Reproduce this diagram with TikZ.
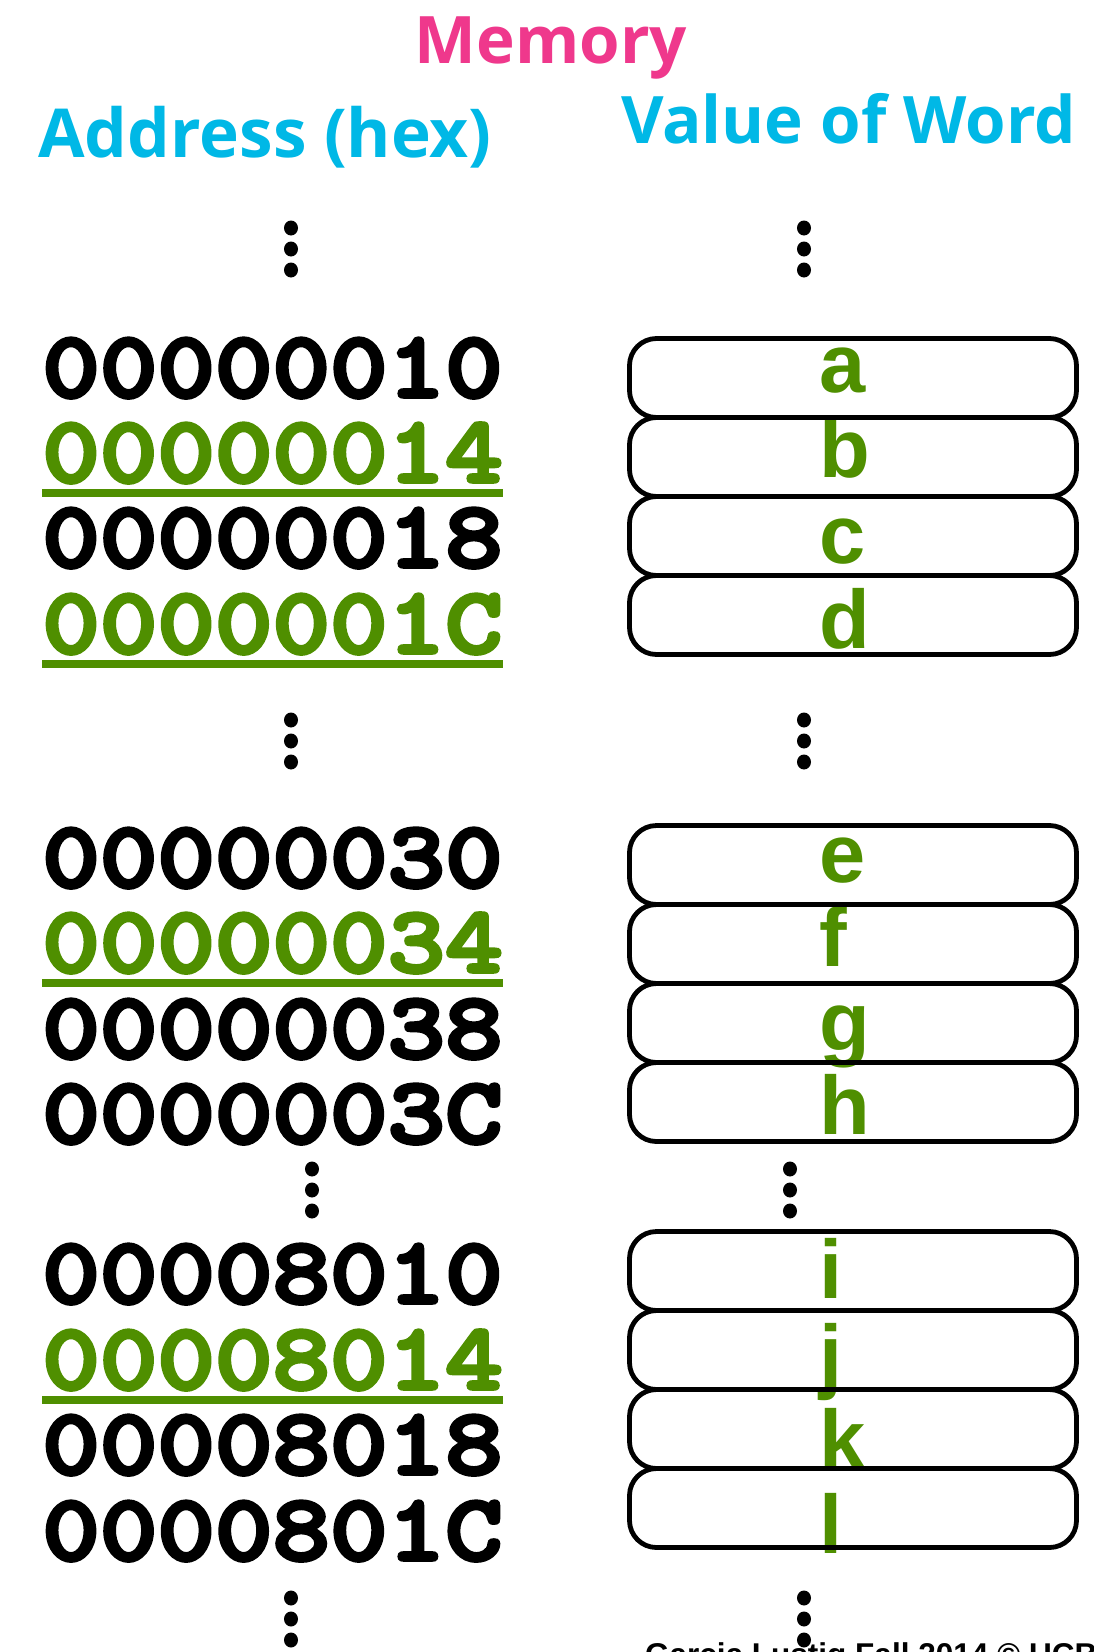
\documentclass[tikz,border=0pt]{standalone}
\usepackage{fontspec}
\setmainfont{Liberation Sans}
\newfontfamily\titlefont{Open Sans}
\newfontfamily\addrfont{lmmonolt10-bold}[Extension=.otf, FakeStretch=1.16, FakeBold=4]
\newfontfamily\letterfont{Liberation Sans}
\definecolor{memgreen}{RGB}{79,143,0}
\definecolor{mempink}{RGB}{239,56,140}
\definecolor{memcyan}{RGB}{0,184,230}
\tikzset{
  titletext/.style={font=\titlefont\bfseries\fontsize{65.5pt}{70pt}\selectfont, inner sep=0pt, anchor=base},
  addr/.style={font=\addrfont\fontsize{94.5pt}{98pt}\selectfont, inner sep=0pt, anchor=base},
  hladdr/.style={addr, text=memgreen},
  uline/.style={draw=memgreen, line width=8pt},
  wordbox/.style={draw=black, line width=4.8pt, rounded corners=27pt, minimum width=447pt, minimum height=79pt, inner sep=0pt},
  val/.style={font=\letterfont\bfseries\fontsize{83pt}{90pt}\selectfont, text=memgreen, inner sep=0pt, anchor=base west},
  footer/.style={font=\letterfont\bfseries\fontsize{31.5pt}{34pt}\selectfont, inner sep=0pt, anchor=base west},
}
\newcommand{\vdotsat}[2]{%
  \foreach \dy in {0,21,42} {\fill (#1,#2+\dy) ellipse [x radius=7pt, y radius=7.5pt];}}
\begin{document}
\begin{tikzpicture}[x=1pt,y=-1pt]
\useasboundingbox (0,0) rectangle (1094,1652);
\fill[white] (0,0) rectangle (1094,1652);
\clip (0,0) rectangle (1094,1652);

% titles
\node[titletext, text=mempink] (mem) at (551,63) {Memory};
\node[titletext, text=memcyan, font=\titlefont\bfseries\fontsize{67.5pt}{72pt}\selectfont] (addrhead) at (265,157) {Address (hex)};
\node[titletext, text=memcyan] (valhead) at (848.5,143) {Value of Word};

% dots
\vdotsat{291}{228}
\vdotsat{804}{228}
\vdotsat{291}{720}
\vdotsat{804}{720}
\vdotsat{312}{1169}
\vdotsat{790}{1169}
\vdotsat{291}{1598}
\vdotsat{804}{1598}

% addresses
\node[addr]   (r10) at (272.5,397)  {00000010};
\node[hladdr] (r14) at (272.5,482)  {00000014};
\node[addr]   (r18) at (272.5,567)  {00000018};
\node[hladdr] (r1c) at (272.5,653)  {0000001C};
\node[addr]   (r30) at (272.5,887)  {00000030};
\node[hladdr] (r34) at (272.5,972)  {00000034};
\node[addr]   (r38) at (272.5,1058) {00000038};
\node[addr]   (r3c) at (272.5,1143) {0000003C};
\node[addr]   (s10) at (272.5,1303) {00008010};
\node[hladdr] (s14) at (272.5,1389) {00008014};
\node[addr]   (s18) at (272.5,1474) {00008018};
\node[addr]   (s1c) at (272.5,1560) {0000801C};

\draw[uline] (42,493) -- (503,493);
\draw[uline] (42,664) -- (503,664);
\draw[uline] (42,983) -- (503,983);
\draw[uline] (42,1400) -- (503,1400);

% letters
\node[val] (la) at (819,392)  {a};
\node[val] (lb) at (819,477)  {b};
\node[val] (lc) at (819,563)  {c};
\node[val] (ld) at (819,648)  {d};
\node[val] (le) at (819,882)  {e};
\node[val] (lf) at (819,966)  {f};
\node[val] (lg) at (819,1050) {g};
\node[val] (lh) at (819,1134) {h};
\node[val] (li) at (819,1298) {i};
\node[val] (lj) at (819,1383) {j};
\node[val] (lk) at (819,1468) {k};
\node[val] (ll) at (819,1553) {l};

% word boxes
\node[wordbox] (ba) at (853,378)  {};
\node[wordbox] (bb) at (853,457)  {};
\node[wordbox] (bc) at (853,536)  {};
\node[wordbox] (bd) at (853,615)  {};
\node[wordbox] (be) at (853,865)  {};
\node[wordbox] (bf) at (853,944)  {};
\node[wordbox] (bg) at (853,1023) {};
\node[wordbox] (bh) at (853,1102) {};
\node[wordbox] (bi) at (853,1271) {};
\node[wordbox] (bj) at (853,1350) {};
\node[wordbox] (bk) at (853,1429) {};
\node[wordbox] (bl) at (853,1508) {};

% footer (cut by page edge)
\node[footer] (foot) at (645,1665) {Garcia Lustig Fall 2014 © UCB};
\end{tikzpicture}
\end{document}
